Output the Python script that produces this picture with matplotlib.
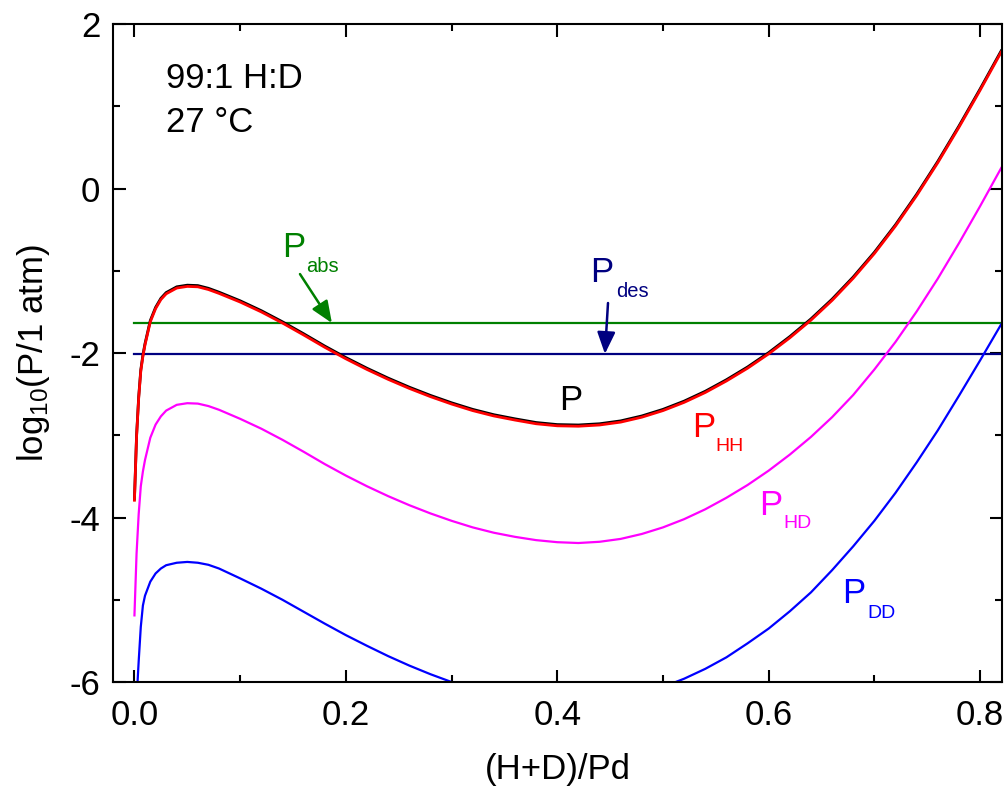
import matplotlib
matplotlib.use("Agg")
import matplotlib.pyplot as plt
from matplotlib.ticker import MultipleLocator

plt.rcParams['font.family'] = ['Liberation Sans', 'DejaVu Sans']
plt.rcParams['mathtext.fontset'] = 'custom'
plt.rcParams['mathtext.rm'] = 'Liberation Sans'
plt.rcParams['mathtext.it'] = 'Liberation Sans:italic'
plt.rcParams['axes.unicode_minus'] = False

# x = (H+D)/Pd, shared by P, P_HH and P_HD
x_h = [0, 0.002, 0.004, 0.006, 0.008, 0.01, 0.015, 0.02, 0.025, 0.03, 0.04,
       0.05, 0.06, 0.07, 0.08, 0.10, 0.12, 0.14, 0.16, 0.18, 0.20, 0.22,
       0.24, 0.26, 0.28, 0.30, 0.32, 0.34, 0.36, 0.38, 0.40, 0.42, 0.44,
       0.46, 0.48, 0.50, 0.52, 0.54, 0.56, 0.58, 0.60, 0.62, 0.64, 0.66,
       0.68, 0.70, 0.72, 0.74, 0.76, 0.78, 0.80, 0.82]
p_hh = [-3.79, -3.02, -2.55, -2.22, -2.04, -1.90, -1.62, -1.46, -1.35, -1.28,
        -1.21, -1.19, -1.195, -1.228, -1.275, -1.38, -1.50, -1.635, -1.78, -1.93,
        -2.07, -2.20, -2.32, -2.43, -2.53, -2.62, -2.70, -2.765, -2.815, -2.86,
        -2.885, -2.89, -2.875, -2.84, -2.78, -2.70, -2.60, -2.48, -2.34, -2.185,
        -2.01, -1.815, -1.60, -1.36, -1.09, -0.79, -0.455, -0.085, 0.315, 0.745,
        1.195, 1.66]
p_tot = [-3.775, -3.005, -2.535, -2.205, -2.025, -1.885, -1.605, -1.445, -1.335,
         -1.265, -1.195, -1.175, -1.18, -1.213, -1.26, -1.365, -1.485, -1.62,
         -1.765, -1.915, -2.055, -2.185, -2.305, -2.415, -2.515, -2.605, -2.685,
         -2.75, -2.80, -2.845, -2.87, -2.875, -2.86, -2.825, -2.765, -2.685,
         -2.585, -2.465, -2.325, -2.17, -1.995, -1.80, -1.585, -1.345, -1.075,
         -0.775, -0.44, -0.07, 0.33, 0.76, 1.21, 1.675]
p_hd = [-5.19, -4.44, -3.96, -3.62, -3.44, -3.30, -3.03, -2.87, -2.77, -2.70,
        -2.63, -2.61, -2.615, -2.645, -2.69, -2.80, -2.92, -3.055, -3.20, -3.35,
        -3.49, -3.62, -3.74, -3.85, -3.95, -4.04, -4.12, -4.185, -4.235, -4.275,
        -4.30, -4.31, -4.295, -4.26, -4.20, -4.12, -4.02, -3.90, -3.76, -3.605,
        -3.43, -3.235, -3.02, -2.78, -2.51, -2.20, -1.865, -1.495, -1.095, -0.665,
        -0.215, 0.25]

x_d = [0.0025, 0.004, 0.006, 0.008, 0.01, 0.015, 0.02, 0.025, 0.03, 0.04,
       0.05, 0.06, 0.07, 0.08, 0.10, 0.12, 0.14, 0.16, 0.18, 0.20, 0.22, 0.24,
       0.26, 0.28, 0.30, 0.32, 0.41, 0.50, 0.52, 0.54, 0.56, 0.58, 0.60, 0.62,
       0.64, 0.66, 0.68, 0.70, 0.72, 0.74, 0.76, 0.78, 0.80, 0.82]
p_dd = [-6.1, -5.75, -5.33, -5.07, -4.95, -4.78, -4.68, -4.62, -4.58, -4.55,
        -4.54, -4.55, -4.575, -4.62, -4.74, -4.865, -5.00, -5.145, -5.29, -5.43,
        -5.56, -5.685, -5.80, -5.905, -6.00, -6.09, -6.27, -6.06, -5.96, -5.84,
        -5.70, -5.53, -5.35, -5.14, -4.91, -4.64, -4.35, -4.04, -3.70, -3.33,
        -2.94, -2.52, -2.09, -1.65]

x_line = [0.0, 0.825]
p_abs = -1.635
p_des = -2.01

fig = plt.figure(figsize=(10.07, 7.88), dpi=100)
ax = fig.add_axes([0.1122, 0.1345, 0.8828, 0.835])

ax.plot(x_line, [p_abs, p_abs], color='#008000', lw=1.6)
ax.plot(x_line, [p_des, p_des], color='#000080', lw=1.6)
ax.plot(x_d, p_dd, color='#0000ff', lw=1.6)
ax.plot(x_h, p_hd, color='#ff00ff', lw=1.6)
ax.plot(x_h, p_tot, color='black', lw=2.0)
ax.plot(x_h, p_hh, color='#ff0000', lw=2.0)

ax.set_xlim(-0.0203, 0.8207)
ax.set_ylim(-6, 2)
ax.xaxis.set_major_locator(MultipleLocator(0.2))
ax.xaxis.set_minor_locator(MultipleLocator(0.1))
ax.yaxis.set_major_locator(MultipleLocator(2))
ax.yaxis.set_minor_locator(MultipleLocator(1))
ax.xaxis.set_major_formatter(plt.FormatStrFormatter('%.1f'))
ax.tick_params(which='both', direction='in', top=True, right=True, width=1.5,
               labelsize=25)
ax.tick_params(which='major', length=9)
ax.tick_params(which='minor', length=5)
ax.tick_params(axis='x', pad=12)
ax.tick_params(axis='y', pad=9)
for s in ax.spines.values():
    s.set_linewidth(1.5)

ax.set_xlabel('(H+D)/Pd', fontsize=25, labelpad=15)
ax.set_ylabel(r'log$_{10}$(P/1 atm)', fontsize=25, labelpad=13)

ax.text(0.0298, 1.222, '99:1 H:D', fontsize=25, va='baseline')
ax.text(0.0298, 0.693, '27 °C', fontsize=25, va='baseline')

# curve labels
ax.text(0.4016, -2.693, 'P', fontsize=25, color='black', va='baseline')
ax.text(0.5277, -3.021, 'P', fontsize=25, color='#ff0000', va='baseline')
ax.text(0.5497, -3.191, 'HH', fontsize=14, color='#ff0000', va='baseline')
ax.text(0.5911, -3.970, 'P', fontsize=25, color='#ff00ff', va='baseline')
ax.text(0.6135, -4.128, 'HD', fontsize=14, color='#ff00ff', va='baseline')
ax.text(0.6696, -5.040, 'P', fontsize=25, color='#0000ff', va='baseline')
ax.text(0.6930, -5.222, 'DD', fontsize=14, color='#0000ff', va='baseline')
ax.text(0.1398, -0.833, 'P', fontsize=25, color='#008000', va='baseline')
ax.text(0.1623, -1.015, 'abs', fontsize=14.5, color='#008000', va='baseline')
ax.text(0.4312, -1.137, 'P', fontsize=25, color='#000080', va='baseline')
ax.text(0.4555, -1.319, 'des', fontsize=14.5, color='#000080', va='baseline')

ax.annotate('', xy=(0.1868, p_abs), xytext=(0.1566, -1.040),
            arrowprops=dict(arrowstyle='-|>,head_length=0.6,head_width=0.25',
                            color='#008000', lw=1.8,
                            mutation_scale=22, shrinkA=0, shrinkB=0))
ax.annotate('', xy=(0.4451, p_des), xytext=(0.4480, -1.392),
            arrowprops=dict(arrowstyle='-|>,head_length=0.6,head_width=0.25',
                            color='#000080', lw=1.8,
                            mutation_scale=22, shrinkA=0, shrinkB=0))

fig.savefig('out.png', dpi=100)
